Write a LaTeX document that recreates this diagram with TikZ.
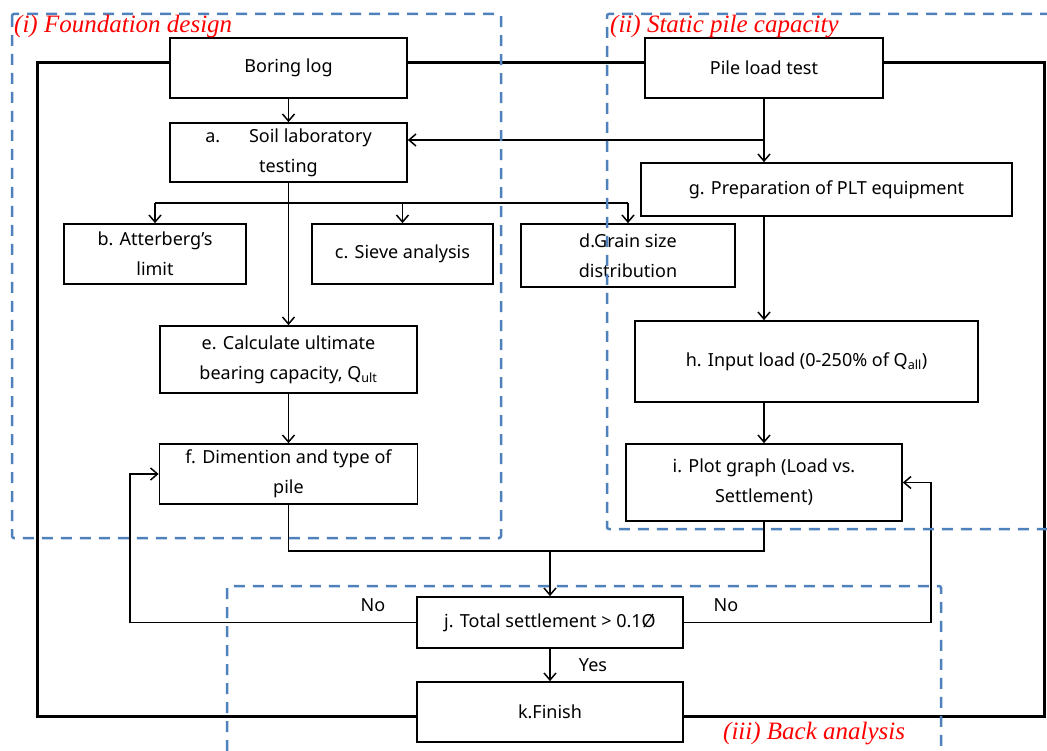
\documentclass[tikz,border=0pt]{standalone}
\usepackage{fontspec}
\setmainfont{Noto Sans}
\newfontfamily\labelfont{Liberation Serif}
\usetikzlibrary{arrows.meta,calc}
\definecolor{dashblue}{HTML}{4F81BD}
\definecolor{labred}{HTML}{FF0000}
\begin{document}
\begin{tikzpicture}[x=1pt,y=-1pt,
  box/.style={draw=black,line width=1.7pt,fill=white,align=center,inner sep=0pt,
    font=\fontsize{18}{30}\selectfont},
  conn/.style={line width=1.5pt},
  arr/.style={conn,-{Straight Barb[length=7pt,width=12pt,line width=1.5pt]}},
  region/.style={draw=dashblue,line width=2.5pt,dash pattern=on 11pt off 8pt,rounded corners=2pt},
  reglabel/.style={text=labred,font=\labelfont\itshape\fontsize{25}{26}\selectfont,inner sep=0pt},
  txt/.style={font=\fontsize{18}{20}\selectfont,inner sep=0pt}]
\useasboundingbox[fill=white] (0,0) rectangle (1047,751);
% outer frame
\draw[line width=3pt] (37,63) rectangle (1044,716);
% nodes
\node[box,minimum width=237pt,minimum height=60pt] (boring) at (288.5,68) {Boring log};
\node[box,minimum width=238pt,minimum height=60pt] (pile) at (764,68) {Pile load test};
\node[box,minimum width=237pt,minimum height=59pt] (a) at (288.5,152.5) {a.\hspace{1.6em}Soil laboratory\\testing};
\node[box,minimum width=182pt,minimum height=60pt] (b) at (155,254) {b. Atterberg’s\\limit};
\node[box,minimum width=181pt,minimum height=60pt] (c) at (402.5,254) {c. Sieve analysis};
\node[box,minimum width=214pt,minimum height=63pt] (d) at (628,255.5) {d.Grain size\\distribution};
\node[box,minimum width=371pt,minimum height=53pt] (g) at (826.5,189.5) {g. Preparation of PLT equipment};
\node[box,minimum width=257pt,minimum height=67pt] (e) at (288.5,359.5) {e. Calculate ultimate\\bearing capacity, Q\textsubscript{ult}};
\node[box,minimum width=258pt,minimum height=60pt] (f) at (288.5,474) {f. Dimention and type of\\pile};
\node[box,minimum width=343pt,minimum height=81pt] (h) at (806.5,361.5) {h. Input load (0-250\% of Q\textsubscript{all})};
\node[box,minimum width=276pt,minimum height=77pt] (i) at (764,482.5) {i. Plot graph (Load vs.\\Settlement)};
\node[box,minimum width=266pt,minimum height=51pt] (j) at (550,622.5) {j. Total settlement > 0.1Ø};
\node[box,minimum width=266pt,minimum height=60pt] (k) at (550,712) {k.Finish};
% connectors
\coordinate (split) at (288.5,203);
\coordinate (merge) at (550,551);
\draw[arr] (boring.south) -- (a.north);
\draw[arr] (pile.south) -- (pile.south |- g.north);
\draw[arr] (pile.south |- 0,140) -- ([yshift=12.5pt]a.east);
\draw[arr] (a.south) -- (e.north);
\draw[conn] (b.north |- split) -- (d.north |- split);
\draw[arr] (b.north |- split) -- (b.north);
\draw[arr] (c.north |- split) -- (c.north);
\draw[arr] (d.north |- split) -- (d.north);
\draw[arr] (e.south) -- (f.north);
\draw[arr] (pile.south |- g.south) -- (pile.south |- h.north);
\draw[arr] (i.north |- h.south) -- (i.north);
\draw[conn] (f.south) |- (merge);
\draw[conn] (i.south) |- (merge);
\draw[arr] (merge) -- (j.north);
\draw[arr] (j.west) -- ++(-286,0) |- (f.west);
\draw[arr] (j.east) -- ++(247,0) |- (i.east);
\draw[arr] (j.south) -- (k.north);
\node[txt] (no1) at (373,605) {No};
\node[txt] (no2) at (726,605) {No};
\node[txt] (yes) at (593,665) {Yes};
% dashed regions
\draw[region] (12,14) rectangle (501,538);
\draw[region] (1070,14) -- (607,14) -- (607,529) -- (1070,529);
\draw[region] (227,770) -- (227,586) -- (941,586) -- (941,770);
\node[reglabel,anchor=base west] (l1) at (14,33) {(i) Foundation design};
\node[reglabel,anchor=base west] (l2) at (610,33) {(ii) Static pile capacity};
\node[reglabel,anchor=base west] (l3) at (723,739) {(iii) Back analysis};
\end{tikzpicture}
\end{document}
